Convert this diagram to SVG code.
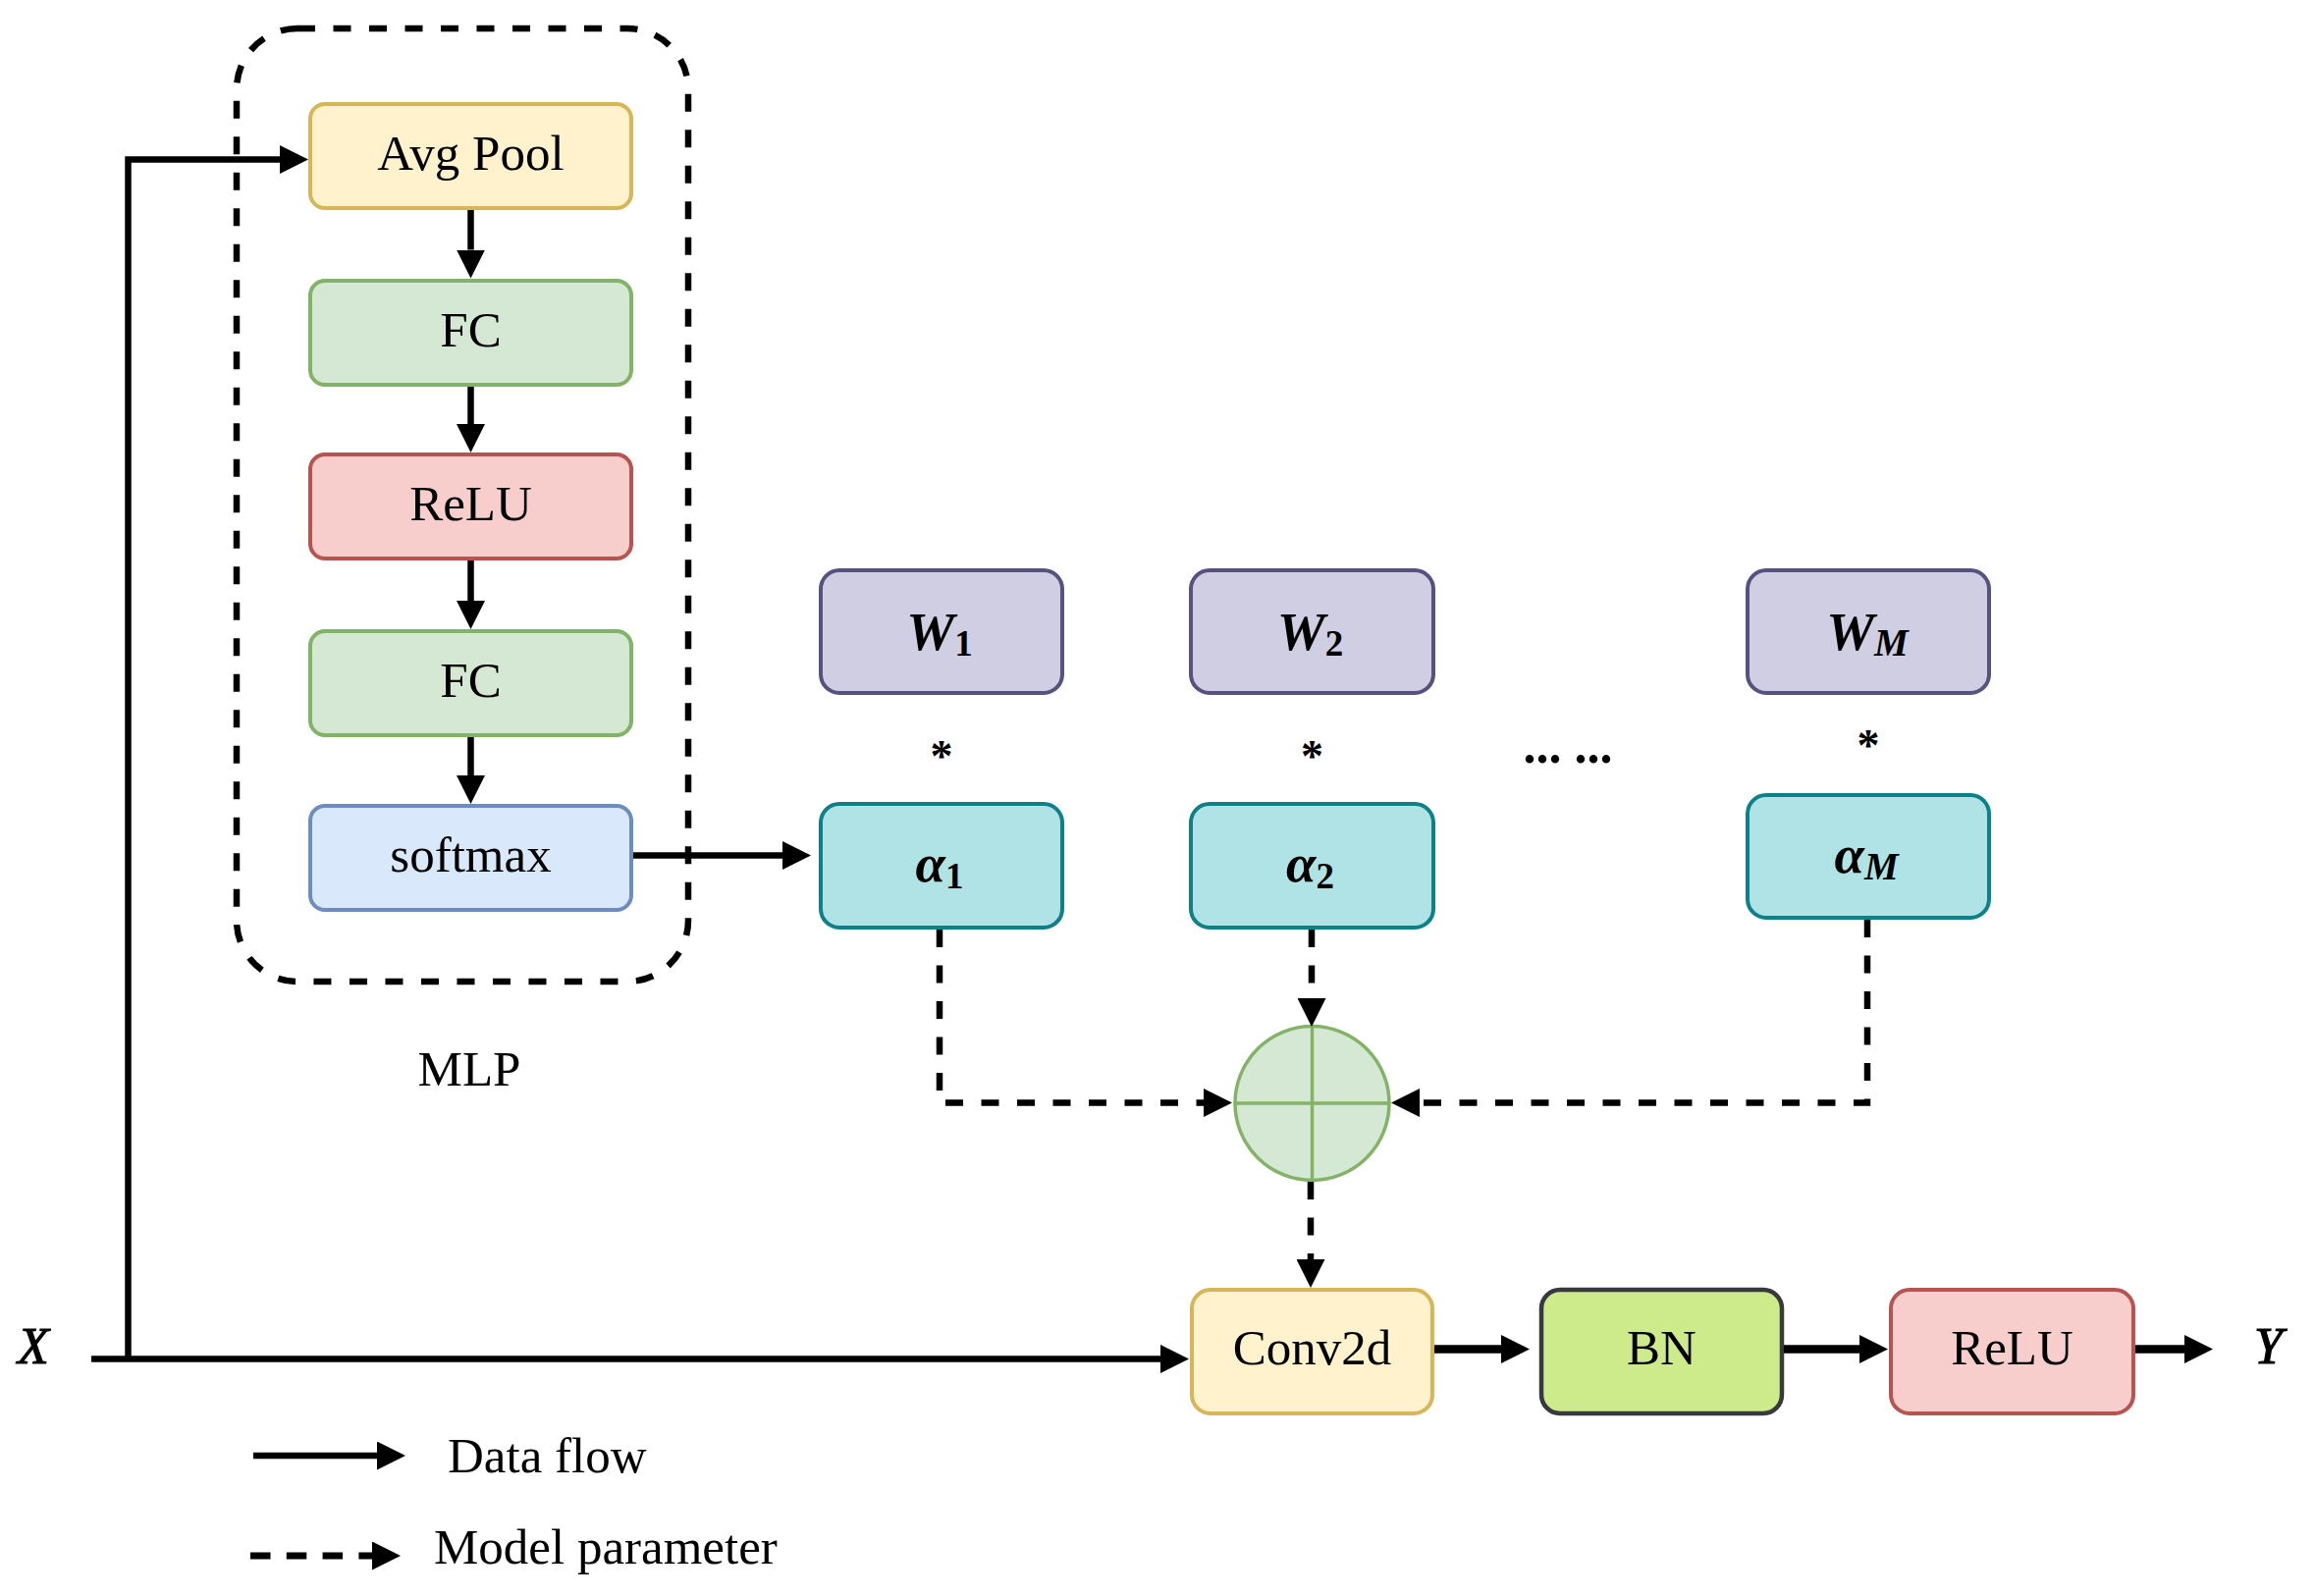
<svg xmlns="http://www.w3.org/2000/svg" width="2358" height="1626" viewBox="0 0 2358 1626">
<style>
.lbl{font-family:"Liberation Serif","Times New Roman",serif;font-size:51px;fill:#000;text-anchor:middle}
.math{font-family:"Liberation Serif","Times New Roman",serif;font-size:55px;font-style:italic;font-weight:bold;fill:#000;text-anchor:middle}
.sub{font-size:37px;font-style:normal}
.subi{font-size:39px;font-style:italic}
.box{stroke-width:4}
.solid{fill:none;stroke:#000;stroke-width:6.5}
.thick{fill:none;stroke:#000;stroke-width:8.5}
.dash{fill:none;stroke:#000;stroke-width:6.5;stroke-dasharray:18 18.5}
</style>
<defs>
<marker id="ah" viewBox="0 0 29 29" markerWidth="29" markerHeight="29" refX="0" refY="14.5" orient="auto" markerUnits="userSpaceOnUse">
<path d="M0,0 L29,14.5 L0,29 z" fill="#000"/>
</marker>
</defs>
<rect width="2358" height="1626" fill="#fff"/>

<g id="mlp-container">
<rect x="241" y="29" width="460" height="971" rx="62" ry="62" fill="none" stroke="#000" stroke-width="6.5" stroke-dasharray="18 18.5"/>
<text class="lbl" x="478" y="1106">MLP</text>
</g>

<g id="avgpool"><rect class="box" x="316" y="106" width="327" height="106" rx="15" fill="#fff2cc" stroke="#d6b656"/><text class="lbl" x="479.5" y="173">Avg Pool</text></g>
<g id="fc1"><rect class="box" x="316" y="286" width="327" height="106" rx="15" fill="#d5e8d4" stroke="#82b366"/><text class="lbl" x="479.5" y="353">FC</text></g>
<g id="relu1"><rect class="box" x="316" y="463" width="327" height="106" rx="15" fill="#f8cecc" stroke="#b85450"/><text class="lbl" x="479.5" y="530">ReLU</text></g>
<g id="fc2"><rect class="box" x="316" y="643" width="327" height="106" rx="15" fill="#d5e8d4" stroke="#82b366"/><text class="lbl" x="479.5" y="710">FC</text></g>
<g id="softmax"><rect class="box" x="316" y="821" width="327" height="106" rx="15" fill="#dae8fc" stroke="#6c8ebf"/><text class="lbl" x="479.5" y="888">softmax</text></g>

<g id="w1"><rect class="box" x="836" y="581" width="246" height="125" rx="19" fill="#d0cee2" stroke="#56517e"/><text class="math" x="957" y="662">W<tspan class="sub" dy="6">1</tspan></text></g>
<g id="w2"><rect class="box" x="1213" y="581" width="247" height="125" rx="19" fill="#d0cee2" stroke="#56517e"/><text class="math" x="1334.5" y="662">W<tspan class="sub" dy="6">2</tspan></text></g>
<g id="wm"><rect class="box" x="1780" y="581" width="246" height="125" rx="19" fill="#d0cee2" stroke="#56517e"/><text class="math" x="1902" y="662">W<tspan class="subi" dy="6">M</tspan></text></g>

<g id="a1"><rect class="box" x="836" y="819" width="246" height="126" rx="19" fill="#b0e3e6" stroke="#0e8088"/><text class="math" x="957" y="898">α<tspan class="sub" dy="7">1</tspan></text></g>
<g id="a2"><rect class="box" x="1213" y="819" width="247" height="126" rx="19" fill="#b0e3e6" stroke="#0e8088"/><text class="math" x="1334.5" y="898">α<tspan class="sub" dy="7">2</tspan></text></g>
<g id="am"><rect class="box" x="1780" y="810" width="246" height="125" rx="19" fill="#b0e3e6" stroke="#0e8088"/><text class="math" x="1901" y="889">α<tspan class="subi" dy="7">M</tspan></text></g>

<g id="ops" font-family="Liberation Serif, serif" font-weight="bold" font-size="46" text-anchor="middle">
<text x="959" y="786">*</text>
<text x="1336.5" y="786">*</text>
<text x="1903" y="775">*</text>
<text x="1597" y="777" font-size="52">... ...</text>
</g>

<g id="sum">
<circle cx="1336.5" cy="1124" r="78.5" fill="#d5e8d4" stroke="#82b366" stroke-width="3.5"/>
<line x1="1336.5" y1="1045.5" x2="1336.5" y2="1202.5" stroke="#82b366" stroke-width="3.5"/>
<line x1="1258" y1="1124" x2="1415" y2="1124" stroke="#82b366" stroke-width="3.5"/>
</g>

<g id="conv2d"><rect class="box" x="1214" y="1314" width="245" height="126" rx="19" fill="#fff2cc" stroke="#d6b656"/><text class="lbl" x="1336.5" y="1390">Conv2d</text></g>
<g id="bn"><rect x="1570" y="1314" width="245" height="126" rx="19" fill="#cdeb8b" stroke="#36393d" stroke-width="4.5"/><text class="lbl" x="1692.5" y="1390">BN</text></g>
<g id="relu2"><rect class="box" x="1926" y="1314" width="247" height="126" rx="19" fill="#f8cecc" stroke="#b85450"/><text class="lbl" x="2049.5" y="1390">ReLU</text></g>

<g id="io" font-family="Liberation Serif, serif" font-style="italic" font-size="52" stroke="#000" stroke-width="1.2">
<text x="18" y="1389">X</text>
<text x="2296" y="1389">Y</text>
</g>

<g id="connectors">
<path class="solid" d="M93,1384.5 H1182" marker-end="url(#ah)"/>
<path class="solid" d="M130.5,1384.5 V162.5 H285" marker-end="url(#ah)"/>
<path class="solid" d="M479.5,214 V254.5" marker-end="url(#ah)"/>
<path class="solid" d="M479.5,394 V432" marker-end="url(#ah)"/>
<path class="solid" d="M479.5,571 V612" marker-end="url(#ah)"/>
<path class="solid" d="M479.5,751 V790" marker-end="url(#ah)"/>
<path class="solid" d="M645,871.5 H797" marker-end="url(#ah)"/>
<path class="thick" d="M1461,1374.5 H1529" marker-end="url(#ah)"/>
<path class="thick" d="M1817,1374.5 H1894" marker-end="url(#ah)"/>
<path class="thick" d="M2175,1374.5 H2225" marker-end="url(#ah)"/>
<path class="dash" d="M957,947 V1123.5 H1226" marker-end="url(#ah)"/>
<path class="dash" d="M1336,947 V1017" marker-end="url(#ah)"/>
<path class="dash" d="M1902,937 V1123.5 H1446" marker-end="url(#ah)"/>
<path class="dash" d="M1335,1204 V1283" marker-end="url(#ah)"/>
</g>

<g id="legend">
<path class="solid" d="M258,1483 H384" stroke-width="7" marker-end="url(#ah)"/>
<text x="456" y="1500" font-family="Liberation Serif, serif" font-size="51">Data flow</text>
<path d="M255,1585 H379" fill="none" stroke="#000" stroke-width="7" stroke-dasharray="20.5 16.3" marker-end="url(#ah)"/>
<text x="442" y="1593" font-family="Liberation Serif, serif" font-size="51">Model parameter</text>
</g>
</svg>
